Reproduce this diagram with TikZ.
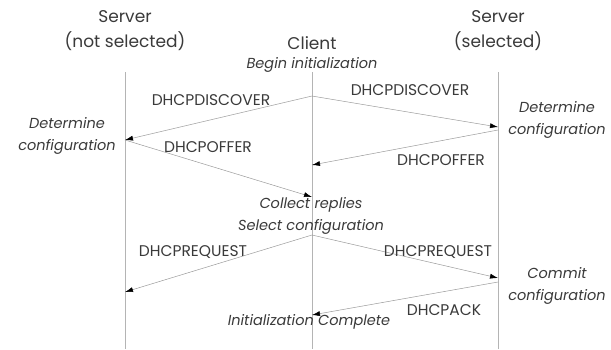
\documentclass[tikz,border=0pt]{standalone}
\usepackage{fontspec}
\setmainfont{Poppins}
\usetikzlibrary{arrows.meta}
\usetikzlibrary{positioning}
\definecolor{txtgray}{HTML}{3A3A3A}
\definecolor{linegray}{HTML}{B4B4B4}
\definecolor{msggray}{HTML}{9A9A9A}
\tikzset{
	>={Latex[length=8pt,width=5pt,color=black]},
	head/.style={
		text=txtgray,
		align=center,
		font=\fontsize{17}{25}\selectfont,
		inner sep=0pt},
	note/.style={
		text=txtgray,
		align=center,
		font=\fontsize{14.5}{22}\selectfont\itshape,
		inner sep=0pt},
	msglabel/.style={
		text=txtgray,
		font=\fontsize{15.5}{17}\selectfont,
		inner sep=0pt},
	lifeline/.style={draw=linegray, line width=0.6pt},
	msg/.style={draw=msggray, line width=0.5pt, ->},
}

\begin{document}
\begin{tikzpicture}
			[x=1pt, y=-1pt]
			\useasboundingbox (0,0) rectangle (611,349);
			% headers
			\node[head] (srvl) at (125,30.5) {Server\\(not selected)};
			\node[head] (client) at (312,43) {Client};
			\node[head] (srvr) at (498,30.5) {Server\\(selected)};
			\node[note] (begin) at (312,65) {Begin initialization};
			
			% lifelines
			\coordinate (lt) at (125,72);
			\coordinate (lb) at (125,349);
			\coordinate (ct) at (312,72);
			\coordinate (cb) at (312,349);
			\coordinate (rt) at (498,72);
			\coordinate (rb) at (498,349);
			\draw[lifeline] (lt) -- (lb);
			\draw[lifeline] (ct) -- (cb);
			\draw[lifeline] (rt) -- (rb);
			
			% message ends
			\coordinate (c1) at (312,96);
			\coordinate (l1) at (125,140);
			\coordinate (r1) at (498,127);
			\coordinate (r2) at (498,130);
			\coordinate (c2) at (312,165);
			\coordinate (c3) at (312,197);
			\coordinate (c4) at (312,235);
			\coordinate (l2) at (125,292);
			\coordinate (r3) at (498,278);
			\coordinate (r4) at (498,282);
			\coordinate (c5) at (312,315);
			
			% messages
			\draw[msg] (c1) -- (l1);
			\draw[msg] (c1) -- (r1);
			\draw[msg] (l1) -- (c3);
			\draw[msg] (r2) -- (c2);
			\draw[msg] (c4) -- (l2);
			\draw[msg] (c4) -- (r3);
			\draw[msg] (r4) -- (c5);
			
			% message labels
			\node[msglabel] (discl) at (211,100) {DHCPDISCOVER};
			\node[msglabel] (discr) at (410,90) {DHCPDISCOVER};
			\node[msglabel] (offl) at (208,147) {DHCPOFFER};
			\node[msglabel] (offr) at (441,160) {DHCPOFFER};
			\node[msglabel] (reql) at (193,252) {DHCPREQUEST};
			\node[msglabel] (reqr) at (438,252) {DHCPREQUEST};
			\node[msglabel] (ack) at (444,310) {DHCPACK};
			
			% notes
			\node[note] (detl) at (67,136) {Determine\\configuration};
			\node[note] (detr) at (557,120) {Determine\\configuration};
			\node[note] (collect) at (311,216) {Collect replies\\Select configuration};
			\node[note] (commit) at (557,286) {Commit\\configuration};
			\node[note] (done) at (309,322) {Initialization Complete};
\end{tikzpicture}
\end{document}
